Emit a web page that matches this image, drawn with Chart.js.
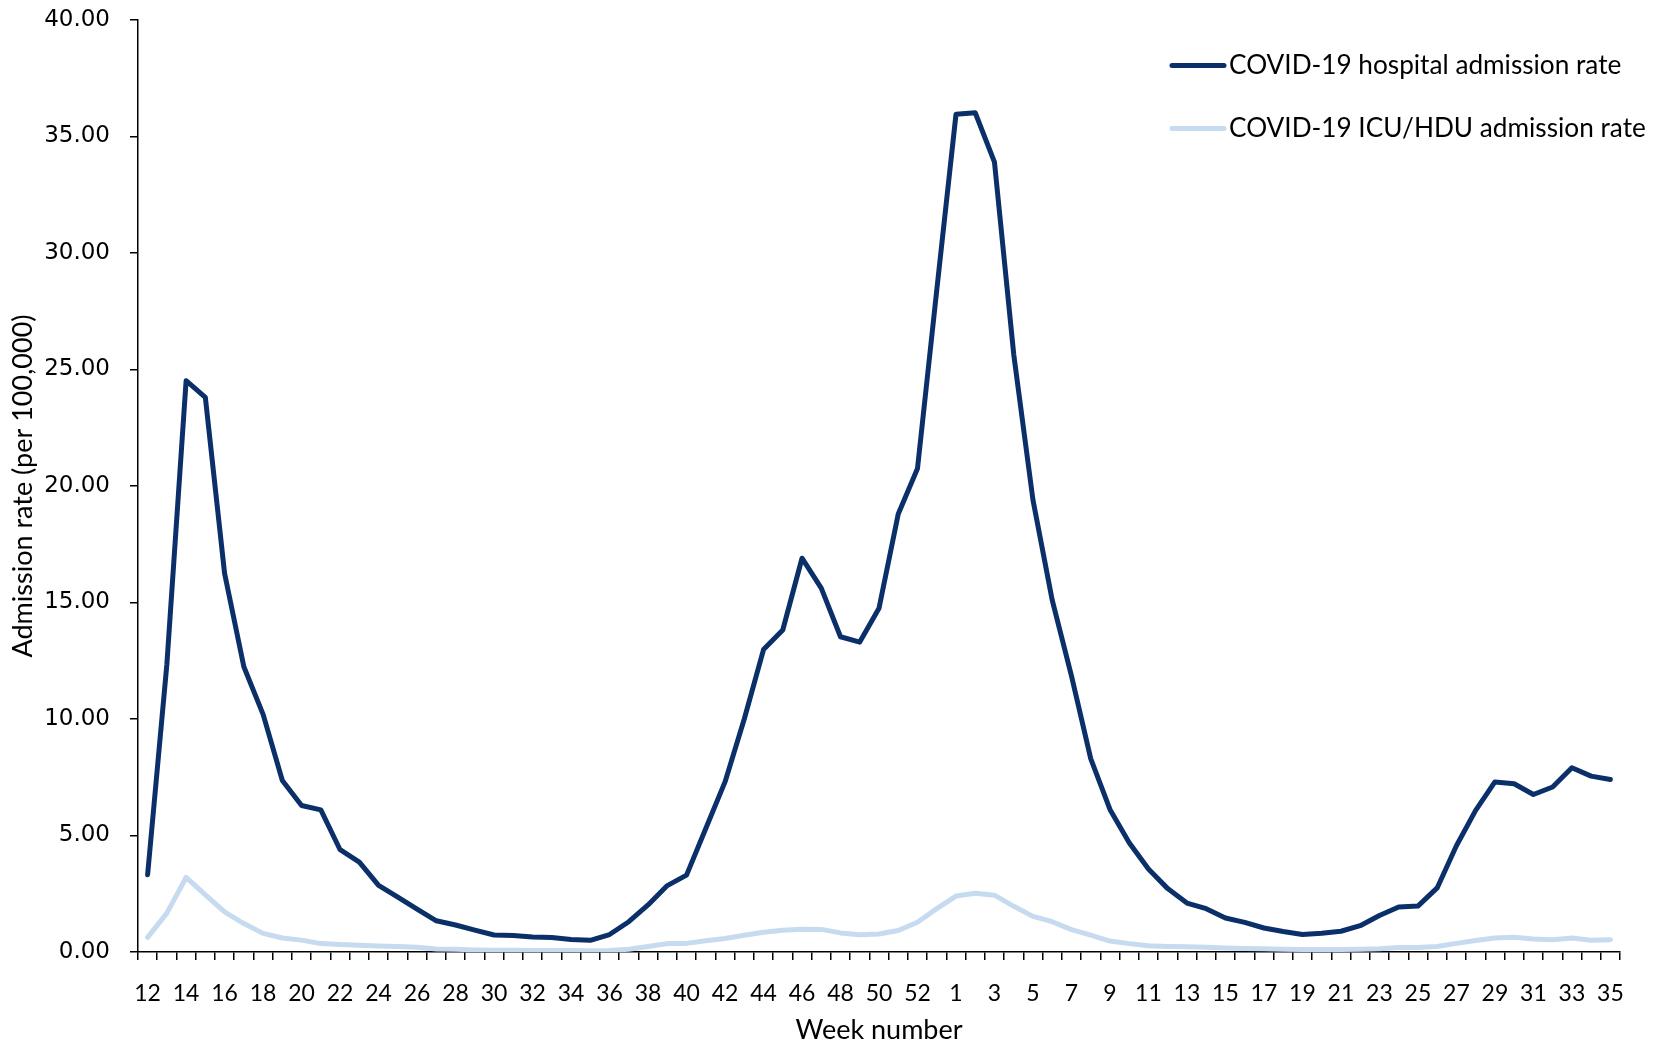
<!DOCTYPE html>
<html>
<head>
<meta charset="utf-8">
<script src="https://cdn.jsdelivr.net/npm/chart.js@4.4.1/dist/chart.umd.min.js"></script>
<style>
  body { margin: 0; background: #fff; }
  #wrap { width: 1661px; height: 1046px; }
</style>
</head>
<body>
<div id="wrap"><canvas id="rateChart" width="1661" height="1046"></canvas></div>
<script>
// week labels: 2020 weeks 12-53 then 2021 weeks 1-35
const weeks = [
    '12','13','14','15','16','17','18','19','20','21','22','23','24','25','26','27','28','29','30','31',
    '32','33','34','35','36','37','38','39','40','41','42','43','44','45','46','47','48','49','50','51',
    '52','53','1','2','3','4','5','6','7','8','9','10','11','12','13','14','15','16','17','18',
    '19','20','21','22','23','24','25','26','27','28','29','30','31','32','33','34','35'
]

const hospitalRate = [
    3.32, 12.35, 24.52, 23.80, 16.24, 12.24, 10.20, 7.36, 6.29, 6.10,
    4.39, 3.86, 2.86, 2.35, 1.84, 1.34, 1.16, 0.94, 0.73, 0.71,
    0.64, 0.62, 0.54, 0.50, 0.75, 1.30, 2.02, 2.85, 3.30, 5.30,
    7.30, 10.00, 12.98, 13.82, 16.90, 15.62, 13.53, 13.30, 14.75, 18.80,
    20.75, 28.40, 35.95, 36.02, 33.90, 25.65, 19.40, 15.10, 11.85, 8.30,
    6.12, 4.69, 3.56, 2.72, 2.10, 1.86, 1.46, 1.27, 1.03, 0.88,
    0.75, 0.80, 0.89, 1.13, 1.57, 1.93, 1.97, 2.75, 4.56, 6.08,
    7.30, 7.22, 6.76, 7.08, 7.91, 7.55, 7.40
]

const icuRate = [
    0.63, 1.67, 3.20, 2.45, 1.72, 1.22, 0.80, 0.60, 0.51, 0.36,
    0.32, 0.29, 0.26, 0.24, 0.20, 0.13, 0.12, 0.09, 0.07, 0.07,
    0.06, 0.06, 0.06, 0.05, 0.06, 0.12, 0.24, 0.36, 0.37, 0.48,
    0.58, 0.72, 0.85, 0.93, 0.98, 0.97, 0.82, 0.74, 0.77, 0.92,
    1.28, 1.86, 2.40, 2.52, 2.44, 1.96, 1.53, 1.30, 0.96, 0.72,
    0.47, 0.36, 0.27, 0.24, 0.22, 0.20, 0.17, 0.15, 0.14, 0.12,
    0.11, 0.11, 0.11, 0.12, 0.14, 0.19, 0.19, 0.24, 0.37, 0.49,
    0.60, 0.63, 0.56, 0.53, 0.60, 0.50, 0.53
]

const seriesNames = ['COVID-19 hospital admission rate', 'COVID-19 ICU/HDU admission rate']
const seriesColors = ['#0b3069', '#c6dbef']

// legend drawn inside the plot, top right
const lineLegend = {
    id: 'lineLegend',
    afterDraw(chart) {
        const ctx = chart.ctx
        ctx.save()
        chart.data.datasets.forEach((ds, i) => {
            const y = 65.5 + i * 63
            ctx.strokeStyle = ds.borderColor
            ctx.lineWidth = 5
            ctx.lineCap = 'round'
            ctx.beginPath()
            ctx.moveTo(1172, y)
            ctx.lineTo(1224, y)
            ctx.stroke()
            ctx.fillStyle = '#000'
            ctx.font = '26.2px Lato'
            ctx.textBaseline = 'middle'
            ctx.fillText(ds.label, 1229, y)
        })
        ctx.restore()
    }
}

const ctx = document.getElementById('rateChart').getContext('2d')
new Chart(ctx, {
    type: 'line',
    data: {
        labels: weeks,
        datasets: [{
            label: seriesNames[0],
            data: hospitalRate,
            borderColor: seriesColors[0],
            borderWidth: 5
        }, {
            label: seriesNames[1],
            data: icuRate,
            borderColor: seriesColors[1],
            borderWidth: 5
        }]
    },
    options: {
        responsive: false,
        animation: false,
        devicePixelRatio: 1,
        layout: { padding: { top: 20, right: 41, left: 0, bottom: 0 } },
        elements: {
            point: { radius: 0 },
            line: { tension: 0, borderCapStyle: 'round', borderJoinStyle: 'round' }
        },
        plugins: {
            legend: { display: false },
            tooltip: { enabled: false }
        },
        scales: {
            x: {
                offset: true,
                afterFit: s => { s.height = 94 },
                border: { color: '#000', width: 1.5 },
                grid: { offset: true, drawOnChartArea: false, color: '#000', lineWidth: 1.5, tickLength: 8 },
                ticks: {
                    autoSkip: false,
                    maxRotation: 0,
                    padding: 20,
                    color: '#000',
                    font: { family: 'Lato', size: 23 },
                    callback: (v, i) => i % 2 === 0 ? weeks[i] : ''
                },
                title: {
                    display: true,
                    text: 'Week number',
                    color: '#000',
                    font: { family: 'Lato', size: 27 },
                    padding: { top: 0, bottom: 0 }
                }
            },
            y: {
                min: 0,
                max: 40,
                // fixed width; drop the label padding so the plot starts at the layout top
                afterFit: s => {
                    s.width = 138
                    s.paddingTop = 0
                    s.paddingBottom = 0
                },
                border: { color: '#000', width: 1.5 },
                grid: { drawOnChartArea: false, color: '#000', lineWidth: 1.5, tickLength: 8 },
                ticks: {
                    stepSize: 5,
                    padding: 20,
                    color: '#000',
                    font: { family: 'DejaVu Sans', size: 23 },
                    callback: v => v.toFixed(2)
                },
                title: {
                    display: true,
                    text: 'Admission rate (per 100,000)',
                    color: '#000',
                    font: { family: 'Lato', size: 27 },
                    padding: { top: 7, bottom: 0 }
                }
            }
        }
    },
    plugins: [lineLegend]
})
</script>
</body>
</html>
